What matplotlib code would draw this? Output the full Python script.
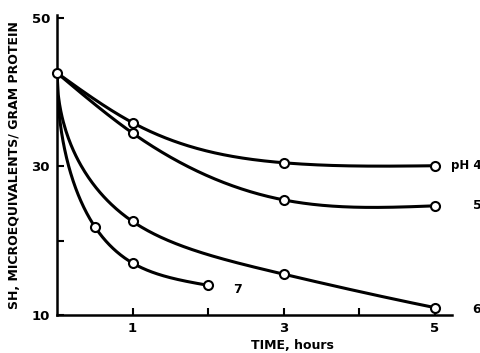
import matplotlib.pyplot as plt
import numpy as np

# SH content vs time at several pH values
start_t = 0.0
start_sh = 42.6

t_ph4 = [0, 1, 3, 5]
sh_ph4 = [42.6, 35.9, 30.5, 30.1]

t_ph5 = [0, 1, 3, 5]
sh_ph5 = [42.6, 34.5, 25.5, 24.7]

t_ph6 = [0, 1, 3, 5]
sh_ph6 = [42.6, 22.6, 15.5, 11.0]

t_ph7 = [0, 0.5, 1, 2]
sh_ph7 = [42.6, 21.9, 17.0, 14.0]

curve_labels = ['pH 4', '5', '6', '7']


def smooth(x, y, warp=False, n=300):
    # natural cubic spline, only to draw the hand-drawn curve through the points
    x = np.asarray(x, float)
    y = np.asarray(y, float)
    u = np.sqrt(x) if warp else x
    k = len(u)
    h = np.diff(u)
    A = np.zeros((k, k))
    b = np.zeros(k)
    A[0, 0] = A[-1, -1] = 1
    for i in range(1, k - 1):
        A[i, i - 1] = h[i - 1]
        A[i, i] = 2 * (h[i - 1] + h[i])
        A[i, i + 1] = h[i]
        b[i] = 6 * ((y[i + 1] - y[i]) / h[i] - (y[i] - y[i - 1]) / h[i - 1])
    M = np.linalg.solve(A, b)
    xs = np.linspace(x[0], x[-1], n)
    us = np.sqrt(xs) if warp else xs
    j = np.clip(np.searchsorted(u, us) - 1, 0, k - 2)
    a = u[j + 1] - us
    c = us - u[j]
    hj = h[j]
    ys = (M[j] * a**3 / (6 * hj) + M[j + 1] * c**3 / (6 * hj)
          + (y[j] / hj - M[j] * hj / 6) * a + (y[j + 1] / hj - M[j + 1] * hj / 6) * c)
    return xs, ys


plt.rcParams['font.family'] = 'DejaVu Sans'
fig = plt.figure(figsize=(4.81, 3.53), dpi=100)
ax = fig.add_axes([0.1185, 0.1076, 0.8215, 0.85])

series = [(t_ph4, sh_ph4, False), (t_ph5, sh_ph5, False),
          (t_ph6, sh_ph6, True), (t_ph7, sh_ph7, True)]
for tx, sy, warp in series:
    xs, ys = smooth(tx, sy, warp)
    ax.plot(xs, ys, color='black', lw=2.2, solid_capstyle='round', zorder=2)
    ax.plot(tx[1:], sy[1:], 'o', ms=6.5, mfc='white', mec='black', mew=1.5, zorder=3)
ax.plot([start_t], [start_sh], 'o', ms=6.5, mfc='white', mec='black', mew=1.5, zorder=3, clip_on=False)

# curve labels
ax.text(5.21, sh_ph4[-1], curve_labels[0], ha='left', va='center', fontsize=8.5, fontweight='bold')
ax.text(5.5, sh_ph5[-1], curve_labels[1], ha='left', va='center', fontsize=9, fontweight='bold')
ax.text(5.5, sh_ph6[-1] - 0.3, curve_labels[2], ha='left', va='center', fontsize=9, fontweight='bold')
ax.text(2.33, 13.4, curve_labels[3], ha='left', va='center', fontsize=9, fontweight='bold')

ax.set_xlim(0, 5.23)
ax.set_ylim(10, 50.4)
ax.set_xticks([1, 2, 3, 4, 5])
ax.set_xticklabels(['1', '', '3', '', '5'])
ax.set_yticks([10, 20, 30, 50])
ax.set_yticklabels(['10', '', '30', '50'])
ax.tick_params(direction='in', length=5, width=1.5, labelsize=9.5, pad=5)
for lbl in ax.get_xticklabels() + ax.get_yticklabels():
    lbl.set_fontweight('bold')

for side in ['top', 'right']:
    ax.spines[side].set_visible(False)
for side in ['left', 'bottom']:
    ax.spines[side].set_linewidth(1.8)

ax.set_xlabel('TIME, hours', fontsize=9, fontweight='bold')
ax.xaxis.set_label_coords(0.597, -0.08)
ax.set_ylabel('SH, MICROEQUIVALENTS/ GRAM PROTEIN', fontsize=9, fontweight='bold')
ax.yaxis.set_label_coords(-0.108, 0.5)
ax.yaxis.label.set_va('center')

fig.savefig('out.png', dpi=100)
